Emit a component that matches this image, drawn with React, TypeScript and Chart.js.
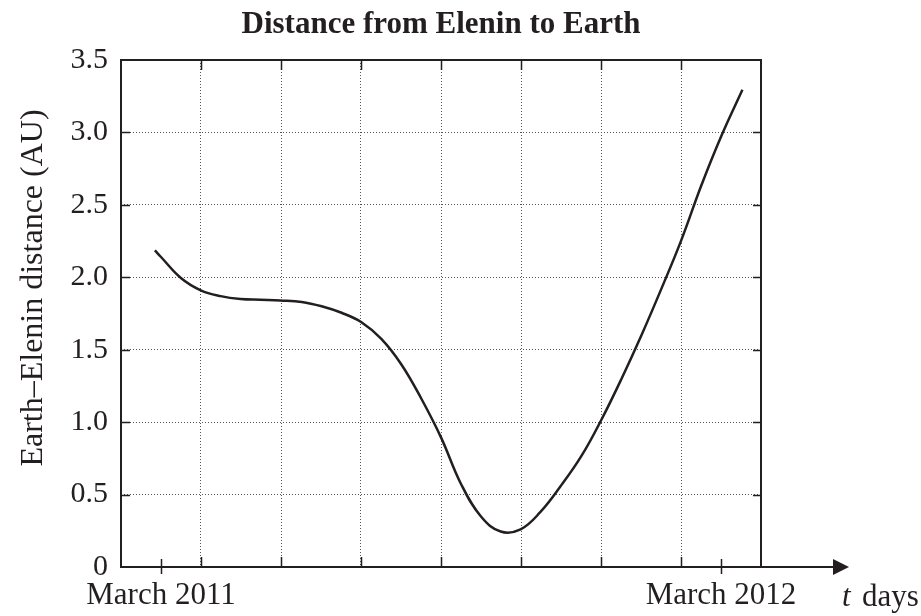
import React, { useEffect, useRef } from "react";
import { Chart, registerables } from "chart.js";

Chart.register(...registerables);

// ---- data (t in days from March 2011) ----
const days = [-4, 0, 13, 26, 39, 52, 65, 78, 92, 105, 118, 131, 144, 157, 170, 183, 196, 209, 222, 235, 248, 261, 275, 288, 301, 314, 327, 340, 353, 366, 380];
const distanceAU = [2.186, 2.14, 1.995, 1.91, 1.87, 1.85, 1.845, 1.84, 1.83, 1.8, 1.755, 1.69, 1.575, 1.4, 1.165, 0.895, 0.575, 0.35, 0.245, 0.26, 0.38, 0.555, 0.77, 1.02, 1.3, 1.6, 1.92, 2.255, 2.63, 2.97, 3.294];

// vertical grid positions (days) and labelled ticks
const gridDays = [-26.14, 26.14, 78.43, 130.71, 183, 235.29, 287.57, 339.86, 392.14];
const labelDays = [0, 366];
const labelTexts = ["March 2011", "March 2012"];
const yTicks = [0, 0.5, 1, 1.5, 2, 2.5, 3, 3.5];

const TITLE = "Distance from Elenin to Earth";
const Y_LABEL = "Earth\u2013Elenin distance (AU)";
const INK = "#231f20";
const GRID = "#555555";
const SERIF = "'Liberation Serif', 'Times New Roman', serif";

const framePlugin = {
  id: "frame",
  afterDraw(chart: any) {
    const { ctx, chartArea } = chart;
    const { left, right, top, bottom } = chartArea;
    const x = chart.scales.x;
    const y = chart.scales.y;
    ctx.save();
    ctx.strokeStyle = INK;
    ctx.fillStyle = INK;
    ctx.lineWidth = 2;
    // frame (left, top, right)
    ctx.beginPath();
    ctx.moveTo(left, bottom);
    ctx.lineTo(left, top);
    ctx.lineTo(right, top);
    ctx.lineTo(right, bottom);
    ctx.stroke();
    // x axis with arrow
    const arrowBase = right + 72;
    ctx.beginPath();
    ctx.moveTo(left - 1, bottom);
    ctx.lineTo(arrowBase, bottom);
    ctx.stroke();
    ctx.beginPath();
    ctx.moveTo(arrowBase, bottom - 8);
    ctx.lineTo(arrowBase + 16, bottom);
    ctx.lineTo(arrowBase, bottom + 8);
    ctx.closePath();
    ctx.fill();
    // inner ticks
    ctx.lineWidth = 1.5;
    ctx.beginPath();
    for (let i = 1; i < gridDays.length - 1; i++) {
      const px = Math.round(x.getPixelForValue(gridDays[i])) + 0.5;
      ctx.moveTo(px, top);
      ctx.lineTo(px, top + 10);
      ctx.moveTo(px, bottom);
      ctx.lineTo(px, bottom - 10);
    }
    for (let i = 1; i < yTicks.length - 1; i++) {
      const py = Math.round(y.getPixelForValue(yTicks[i])) + 0.5;
      ctx.moveTo(left, py);
      ctx.lineTo(left + 9, py);
      ctx.moveTo(right, py);
      ctx.lineTo(right - 8, py);
    }
    for (const d of labelDays) {
      const px = Math.round(x.getPixelForValue(d)) + 0.5;
      ctx.moveTo(px, bottom - 8);
      ctx.lineTo(px, bottom + 7);
    }
    ctx.stroke();
    // y axis label
    ctx.font = `32px ${SERIF}`;
    ctx.textAlign = "center";
    ctx.textBaseline = "alphabetic";
    ctx.save();
    ctx.translate(42, 288);
    ctx.rotate(-Math.PI / 2);
    ctx.fillText(Y_LABEL, 0, 0);
    ctx.restore();
    // "t days"
    ctx.textAlign = "left";
    ctx.font = `italic 31px ${SERIF}`;
    ctx.fillText("t", 842, 606);
    ctx.font = `31px ${SERIF}`;
    ctx.fillText("days", 862, 606);
    ctx.restore();
  },
};

export default function App() {
  const ref = useRef<HTMLCanvasElement | null>(null);

  useEffect(() => {
    if (!ref.current) return;
    const chart = new Chart(ref.current, {
      type: "line",
      data: {
        datasets: [
          {
            data: days.map((d, i) => ({ x: d, y: distanceAU[i] })),
            borderColor: INK,
            borderWidth: 2.5,
            pointRadius: 0,
            fill: false,
            tension: 0.4,
          },
        ],
      },
      options: {
        animation: false,
        responsive: false,
        maintainAspectRatio: false,
        devicePixelRatio: 1,
        layout: { padding: { left: 0, right: 160, top: 0, bottom: 0 } },
        plugins: {
          legend: { display: false },
          tooltip: { enabled: false },
          title: {
            display: true,
            text: TITLE,
            fullSize: false,
            color: INK,
            font: { family: SERIF, size: 31, weight: "bold" },
            padding: { top: 6.5, bottom: 16.3 },
          },
        },
        scales: {
          x: {
            type: "linear",
            min: gridDays[0],
            max: gridDays[gridDays.length - 1],
            afterBuildTicks: (scale: any) => {
              const vals = [...gridDays, ...labelDays].sort((a, b) => a - b);
              scale.ticks = vals.map((v) => ({ value: v }));
            },
            afterFit: (scale: any) => {
              scale.height = 49;
            },
            border: { display: false, dash: [1, 2] },
            grid: {
              drawTicks: false,
              lineWidth: 1,
              color: (c: any) => {
                const v = c.tick ? c.tick.value : null;
                if (v === null) return "transparent";
                if (labelDays.includes(v)) return "transparent";
                if (v === gridDays[0] || v === gridDays[gridDays.length - 1]) return "transparent";
                return GRID;
              },
            },
            ticks: {
              autoSkip: false,
              maxRotation: 0,
              minRotation: 0,
              padding: 10,
              color: INK,
              font: { family: SERIF, size: 31 },
              callback: (v: any) => {
                const i = labelDays.indexOf(Number(v));
                return i >= 0 ? labelTexts[i] : "";
              },
            },
          },
          y: {
            type: "linear",
            min: 0,
            max: 3.5,
            afterBuildTicks: (scale: any) => {
              scale.ticks = yTicks.map((v) => ({ value: v }));
            },
            afterFit: (scale: any) => {
              scale.width = 121;
            },
            border: { display: false, dash: [1, 2] },
            grid: {
              drawTicks: false,
              lineWidth: 1,
              color: (c: any) => {
                const v = c.tick ? c.tick.value : null;
                if (v === null || v === 0 || v === 3.5) return "transparent";
                return GRID;
              },
            },
            ticks: {
              padding: 13,
              color: INK,
              font: { family: SERIF, size: 30 },
              callback: (v: any) => (Number(v) === 0 ? "0" : Number(v).toFixed(1)),
            },
          },
        },
      },
      plugins: [framePlugin],
    } as any);
    return () => chart.destroy();
  }, []);

  return (
    <div style={{ position: "absolute", left: 0, top: 0, width: 921, height: 616, background: "#fff" }}>
      <canvas ref={ref} width={921} height={616} style={{ display: "block", width: 921, height: 616 }} />
    </div>
  );
}
